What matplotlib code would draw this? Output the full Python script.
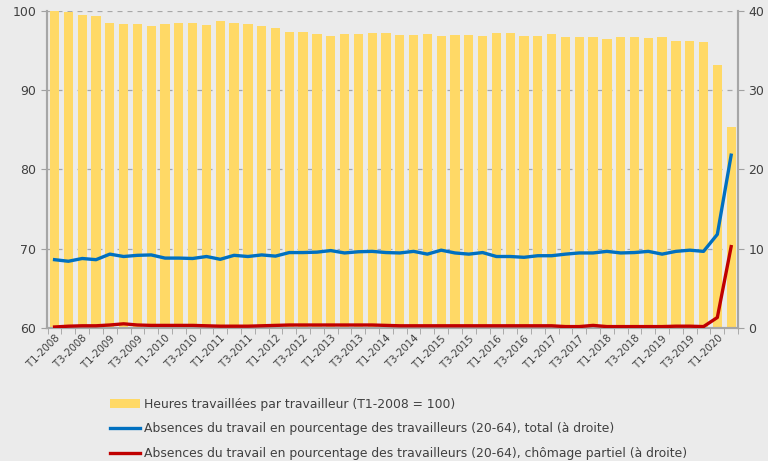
import numpy as np
import matplotlib.pyplot as plt

# Quarterly data, T1-2008 .. T2-2020
quarters = [f"T{q}-{y}" for y in range(2008, 2021) for q in range(1, 5)][:50]

heures = [100.0, 99.9, 99.45, 99.4, 98.45, 98.35, 98.35, 98.15, 98.35, 98.45,
          98.45, 98.2, 98.7, 98.45, 98.35, 98.15, 97.85, 97.4, 97.4, 97.15,
          96.85, 97.15, 97.15, 97.27, 97.27, 97.0, 97.0, 97.15, 96.85, 97.0,
          97.0, 96.85, 97.27, 97.27, 96.85, 96.85, 97.05, 96.7, 96.7, 96.7,
          96.43, 96.7, 96.7, 96.6, 96.7, 96.26, 96.26, 96.1, 93.2, 85.3]

absences_total = [8.6, 8.4, 8.75, 8.6, 9.3, 9.0, 9.15, 9.2, 8.8, 8.8,
                  8.75, 9.0, 8.65, 9.15, 9.0, 9.2, 9.05, 9.5, 9.5, 9.55,
                  9.75, 9.45, 9.6, 9.65, 9.5, 9.45, 9.65, 9.3, 9.8, 9.45,
                  9.3, 9.5, 9.0, 9.0, 8.9, 9.1, 9.1, 9.3, 9.45, 9.45,
                  9.65, 9.45, 9.5, 9.65, 9.3, 9.65, 9.8, 9.65, 11.8, 21.8]

absences_chomage = [0.1, 0.2, 0.25, 0.25, 0.35, 0.5, 0.35, 0.3, 0.3, 0.3,
                    0.3, 0.25, 0.2, 0.2, 0.2, 0.25, 0.3, 0.35, 0.35, 0.35,
                    0.35, 0.35, 0.35, 0.35, 0.3, 0.25, 0.25, 0.25, 0.25, 0.25,
                    0.25, 0.25, 0.25, 0.25, 0.25, 0.25, 0.25, 0.15, 0.15, 0.3,
                    0.15, 0.15, 0.15, 0.15, 0.15, 0.2, 0.2, 0.15, 1.3, 10.25]

bg = '#ebebeb'
txt = '#404040'

fig = plt.figure(figsize=(7.68, 4.61), dpi=100, facecolor=bg)
ax = fig.add_axes([0.061, 0.289, 0.9, 0.687], facecolor=bg)
x = np.arange(len(quarters))

ax.bar(x, heures, width=0.67, color='#ffd966', zorder=2,
       label='Heures travaillées par travailleur (T1-2008 = 100)')
ax.set_ylim(60, 100)
ax.set_yticks([60, 70, 80, 90, 100])
ax.set_xlim(-0.56, 49.4)
ax.grid(axis='y', color='#a8a8a8', linestyle=(0, (4, 4)), linewidth=0.9, zorder=0)
ax.set_xticks(x[::2])
ax.set_xticks(np.arange(len(quarters) + 1) - 0.5, minor=True)
ax.set_xticklabels(quarters[::2], rotation=45, ha='right', rotation_mode='anchor',
                   fontsize=7.3, color=txt)
ax.tick_params(axis='y', labelsize=9, colors=txt, length=4, color='#a0a0a0')
ax.tick_params(axis='x', which='major', length=0, pad=4)
ax.tick_params(axis='x', which='minor', length=4, color='#a0a0a0')

ax2 = ax.twinx()
ax2.plot(x, absences_total, color='#0070c0', linewidth=2.4, zorder=3,
         label='Absences du travail en pourcentage des travailleurs (20-64), total (à droite)')
ax2.plot(x, absences_chomage, color='#c00000', linewidth=2.4, zorder=3,
         label='Absences du travail en pourcentage des travailleurs (20-64), chômage partiel (à droite)')
ax2.set_ylim(0, 40)
ax2.set_yticks([0, 10, 20, 30, 40])
ax2.tick_params(axis='y', labelsize=9, colors=txt, length=4, color='#a0a0a0')

for a in (ax, ax2):
    a.spines['top'].set_visible(False)
    for s in ('left', 'right', 'bottom'):
        a.spines[s].set_color('#a6a6a6')
        a.spines[s].set_linewidth(1.5)

h1, l1 = ax.get_legend_handles_labels()
h2, l2 = ax2.get_legend_handles_labels()
fig.legend(h1 + h2, l1 + l2, loc='upper left', bbox_to_anchor=(0.137, 0.148),
           frameon=False, fontsize=8.9, labelcolor=txt, handlelength=2.4,
           handletextpad=0.3, labelspacing=0.95, borderaxespad=0)

plt.savefig('out.png', dpi=100, facecolor=bg)
